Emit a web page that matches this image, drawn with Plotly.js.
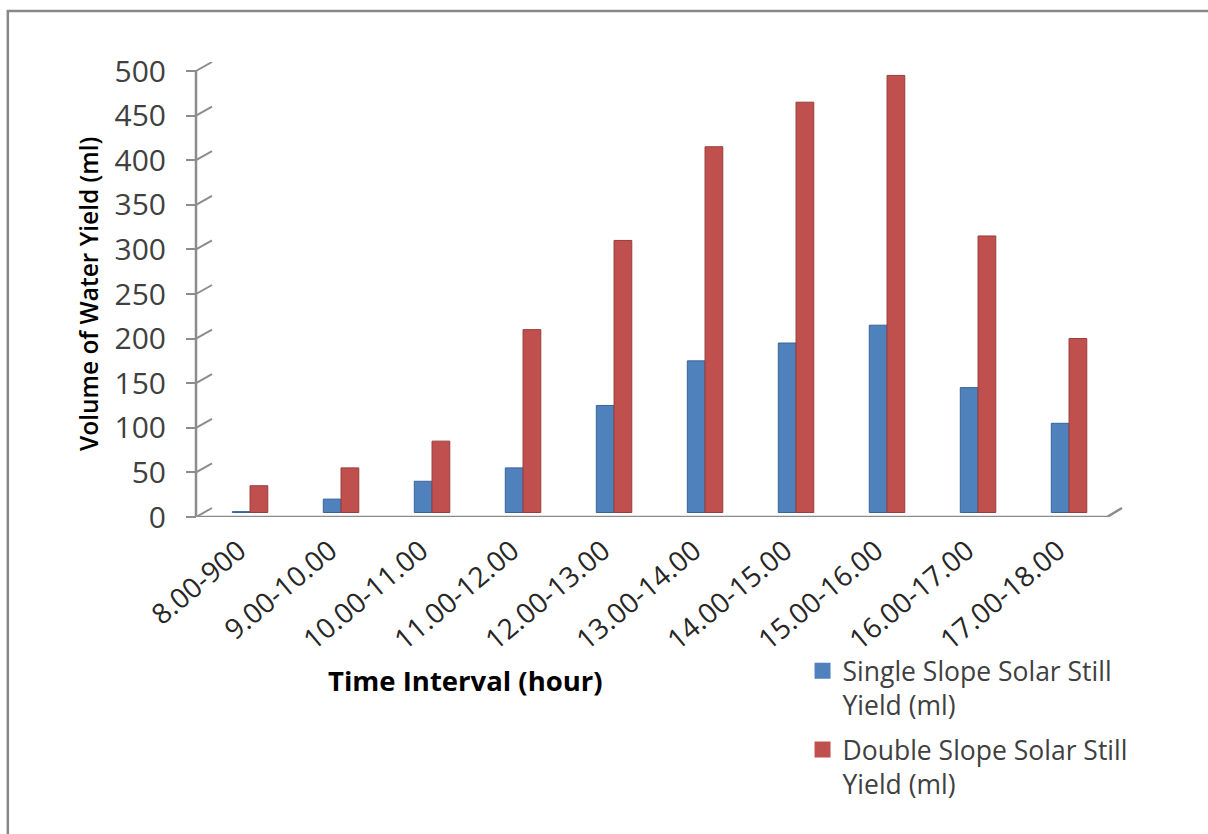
<!DOCTYPE html>
<html>
<head>
<meta charset="utf-8">
<script src="https://cdn.plot.ly/plotly-3.0.1.min.js"></script>
<style>
  html, body { margin: 0; padding: 0; background: #ffffff; }
  #chart { width: 1208px; height: 834px; }
</style>
</head>
<body>
<div id="chart"></div>
<script>
// ---- data ----
const categories = ["8.00-900", "9.00-10.00", "10.00-11.00", "11.00-12.00", "12.00-13.00",
                    "13.00-14.00", "14.00-15.00", "15.00-16.00", "16.00-17.00", "17.00-18.00"];
const singleSlope = [1, 15, 35, 50, 120, 170, 190, 210, 140, 100];
const doubleSlope = [30, 50, 80, 205, 305, 410, 460, 490, 310, 195];
const yTicks = [0, 50, 100, 150, 200, 250, 300, 350, 400, 450, 500];
const seriesNames = ["Single Slope Solar Still<br>Yield (ml)", "Double Slope Solar Still<br>Yield (ml)"];
const xTitle = "Time Interval (hour)";
const yTitle = "Volume of Water Yield (ml)";

// ---- style ----
const BLUE = "#4F81BD", RED = "#C0504D";
const AX = "#8c8c8c";
const FONT = "Open Sans, Liberation Sans, sans-serif";
const depthUnits = 10.09; // perspective offset (front axis -> back wall) in value units
const floorFront = 0.9838, wallStart = 0.01728;
const yMax = yTicks[yTicks.length - 1];
const catIdx = categories.map((c, i) => i);
const labelShift = 0.12; // tick labels sit on the front plane, slightly left of the bars

const traces = [
  { type: "bar", x: categories, y: singleSlope, yaxis: "y", xaxis: "x",
    marker: { color: BLUE, line: { color: "#3a6396", width: 1 } }, showlegend: false, hoverinfo: "y" },
  { type: "bar", x: categories, y: doubleSlope, yaxis: "y", xaxis: "x",
    marker: { color: RED, line: { color: "#983d3b", width: 1 } }, showlegend: false, hoverinfo: "y" },
  { type: "scatter", mode: "markers", x: [null], y: [null], xaxis: "x2", yaxis: "y",
    name: seriesNames[0], legendgroup: "a",
    marker: { symbol: "square", size: 19, color: BLUE }, hoverinfo: "skip" },
  { type: "scatter", mode: "markers", x: [null], y: [null], xaxis: "x2", yaxis: "y",
    name: seriesNames[1], legendgroup: "b",
    marker: { symbol: "square", size: 19, color: RED }, hoverinfo: "skip" }
];

const shapes = [];
yTicks.forEach(v => {
  shapes.push({ type: "line", xref: "paper", yref: "y3", x0: 0, x1: wallStart, y0: v, y1: v + depthUnits,
                line: { color: AX, width: 2 }, layer: "below" });
});
// front vertical axis line (0..max)
shapes.push({ type: "line", xref: "paper", yref: "y3", x0: 0, x1: 0, y0: 0, y1: yMax,
              line: { color: AX, width: 2.5 }, layer: "below" });
// floor front edge and right edge
shapes.push({ type: "line", xref: "paper", yref: "y3", x0: 0, x1: floorFront, y0: 0, y1: 0,
              line: { color: AX, width: 2.5 }, layer: "below" });
shapes.push({ type: "line", xref: "paper", yref: "y3", x0: floorFront, x1: 1, y0: 0, y1: depthUnits,
              line: { color: AX, width: 2.5 }, layer: "below" });
// outer chart border
shapes.push({ type: "rect", xref: "paper", yref: "paper", x0: -0.2032, x1: 1.12, y0: -0.72, y1: 1.1121,
              line: { color: "#888888", width: 2.5 }, fillcolor: "rgba(0,0,0,0)", layer: "below" });

const layout = {
  width: 1208, height: 834,
  margin: { l: 196, r: 86, t: 62, b: 317 },
  paper_bgcolor: "#ffffff", plot_bgcolor: "rgba(0,0,0,0)",
  font: { family: FONT, size: 26, color: "#404040" },
  barmode: "group", bargap: 0.61, bargroupgap: 0,
  showlegend: true,
  legend: { x: 0.655, y: -0.2855, xanchor: "left", yanchor: "top", valign: "top",
            bgcolor: "rgba(0,0,0,0)", font: { family: FONT, size: 26.5, color: "#404040" },
            traceorder: "grouped", tracegroupgap: 7 },
  xaxis: { type: "category", domain: [wallStart, 1], range: [-0.418, 9.582],
           showline: false, showgrid: false, zeroline: false, ticks: "", showticklabels: false },
  xaxis2: { overlaying: "x", anchor: "y", type: "linear",
            range: [-0.418 + labelShift, 9.582 + labelShift],
            tickvals: catIdx, ticktext: categories,
            showline: false, showgrid: false, zeroline: false, ticks: "",
            ticklabelstandoff: 11, side: "bottom",
            tickangle: -40, tickfont: { family: FONT, size: 28, color: "#262626" } },
  yaxis: { range: [-5.04, 505.05], visible: false, showgrid: false, zeroline: false, fixedrange: true },
  yaxis2: { overlaying: "y", anchor: "x", range: [-10.09, 500.3], tickvals: yTicks,
            showgrid: true, gridcolor: "#999999", gridwidth: 2.5, showticklabels: false,
            ticks: "", zeroline: false, showline: false },
  yaxis3: { overlaying: "y", anchor: "free", position: 0, side: "left", range: [0, 510.09],
            tickvals: yTicks, ticks: "outside", ticklen: 10, tickwidth: 2, tickcolor: AX,
            showline: false, showgrid: false, zeroline: false,
            ticklabelstandoff: 14, tickfont: { family: FONT, size: 30, color: "#404040" } },
  annotations: [
    { text: yTitle, xref: "paper", yref: "paper", x: -0.1166, y: 0.490, textangle: -90,
      xanchor: "center", yanchor: "middle",
      showarrow: false, font: { family: FONT, size: 24.5, color: "#000000", weight: 600 } },
    { text: "<b>" + xTitle + "</b>", xref: "paper", yref: "paper", x: 0.2905, y: -0.3604,
      xanchor: "center", yanchor: "middle",
      showarrow: false, font: { family: FONT, size: 27.5, color: "#000000" } }
  ],
  shapes: shapes
};

Plotly.newPlot("chart", traces, layout, { displayModeBar: false, staticPlot: true });
</script>
</body>
</html>
